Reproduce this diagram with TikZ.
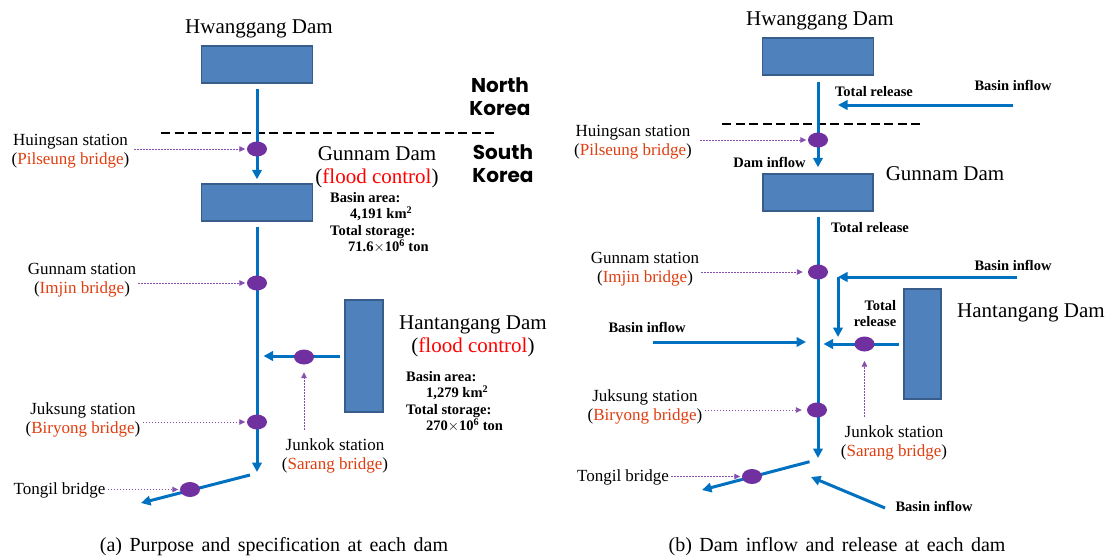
\documentclass[tikz,border=0pt]{standalone}
\usepackage{fontspec}
\setmainfont{Liberation Serif}
\newfontfamily\regionfont{Poppins}
\usepackage{xcolor}
\usepackage{tikz}
\usetikzlibrary{arrows.meta,shapes.geometric,calc}

\definecolor{riverblue}{RGB}{0,112,192}
\definecolor{damfill}{RGB}{79,129,189}
\definecolor{damedge}{RGB}{56,93,138}
\definecolor{gaugepurple}{RGB}{112,48,160}
\definecolor{bridgered}{RGB}{222,62,16}

\begin{document}
\begin{tikzpicture}[x=1pt,y=-1pt,
  dam/.style={draw=damedge, fill=damfill, line width=1.4pt, inner sep=0pt},
  flow/.style={draw=riverblue, line width=3pt, -{Triangle[length=9.5pt,width=9.5pt]}},
  gauge/.style={ellipse, fill=gaugepurple, minimum width=20pt, minimum height=15pt, inner sep=0pt},
  pointer/.style={draw=gaugepurple!85, line width=0.9pt, dash pattern=on 1.6pt off 1.4pt,
                  -{Triangle[length=6pt,width=5.5pt]}},
  damname/.style={font=\fontsize{21}{23}\selectfont, align=center, inner sep=0pt},
  station/.style={font=\fontsize{17}{19}\selectfont, align=center, inner sep=2pt},
  spec/.style={font=\bfseries\fontsize{14.5}{16.5}\selectfont, align=left, inner sep=0pt},
  region/.style={font=\regionfont\bfseries\fontsize{20}{23}\selectfont, align=center, inner sep=0pt},
  caption/.style={font=\fontsize{20}{24}\selectfont, inner sep=0pt}]

  \useasboundingbox (0,0) rectangle (1111,558);

  % ── (a) purpose and specification ───────────────────────────────────
  \node[damname] (hwNameA) at (259,29) {Hwanggang Dam};
  \node[dam, minimum width=111pt, minimum height=37pt] (hwA) at (257,64.5) {};
  \node[dam, minimum width=111pt, minimum height=37pt] (gnA) at (257,202.5) {};
  \node[dam, minimum width=38pt, minimum height=112pt] (htA) at (364,356) {};

  \draw[black, line width=2.8pt, dash pattern=on 9pt off 4.5pt] (161,133) -- (496,133);
  \node[region] (northA) at (500,96.5) {North\\Korea};
  \node[region] (southA) at (503,163.5) {South\\Korea};

  \node[damname] (gnNameA) at (377,167.5) {Gunnam Dam\\(\textcolor{red}{flood control})};
  \node[spec, anchor=north west] (gnSpecA) at (330,192)
       {Basin area:\\\hspace*{20pt}4,191 km$^{\mathbf 2}$\\Total storage:\\\hspace*{18pt}71.6$\times$10$^{\mathbf 6}$ ton};
  \node[damname] (htNameA) at (473,336) {Hantangang Dam\\(\textcolor{red}{flood control})};
  \node[spec, anchor=north west] (htSpecA) at (406,371)
       {Basin area:\\\hspace*{20pt}1,279 km$^{\mathbf 2}$\\Total storage:\\\hspace*{20pt}270$\times$10$^{\mathbf 6}$ ton};

  \coordinate (jA)   at (257,476);
  \coordinate (tgA)  at (250,475);
  \coordinate (outA) at (141,503);
  \draw[flow, shorten <=5pt, shorten >=4pt] (hwA) -- (gnA);
  \draw[flow, shorten <=5pt, shorten >=4pt] (gnA) -- (jA);
  \draw[flow, shorten <=4pt, shorten >=6.5pt] (htA) -- (htA -| jA);
  \draw[flow] (tgA) -- (outA);

  \node[gauge] (huA) at (257,149) {};
  \node[gauge] (gsA) at (257,283) {};
  \node[gauge] (ksA) at (257,422) {};
  \node[gauge] (jkA) at (304,357) {};
  \node[gauge] (toA) at (190,489.5) {};

  \node[station] (huLblA) at (70.5,151.5) {Huingsan station\\(\textcolor{bridgered}{Pilseung bridge})};
  \node[station] (gsLblA) at (82,280)    {Gunnam station\\(\textcolor{bridgered}{Imjin bridge})};
  \node[station] (ksLblA) at (83,420)    {Juksung station\\(\textcolor{bridgered}{Biryong bridge})};
  \node[station] (jkLblA) at (335,455.5) {Junkok station\\(\textcolor{bridgered}{Sarang bridge})};
  \node[station] (toLblA) at (59.5,490)  {Tongil bridge};

  \draw[pointer, shorten <=3pt, shorten >=1.5pt] (huLblA.east |- huA) -- (huA);
  \draw[pointer, shorten <=0pt, shorten >=1.5pt] (gsLblA.east |- gsA) -- (gsA);
  \draw[pointer, shorten <=0pt, shorten >=1.5pt] (ksLblA.east |- ksA) -- (ksA);
  \draw[pointer, shorten <=6pt, shorten >=7.5pt] (jkA |- jkLblA.north) -- (jkA);
  \draw[pointer, shorten <=0pt, shorten >=1.5pt] (toLblA.east |- toA) -- (toA);

  \node[caption] (capA) at (274,547) {\spaceskip=7.5pt\relax (a) Purpose and specification at each dam};

  % ── (b) dam inflow and release ──────────────────────────────────────
  \node[damname] (hwNameB) at (820,21) {Hwanggang Dam};
  \node[dam, minimum width=111pt, minimum height=37pt] (hwB) at (818,56.5) {};
  \node[dam, minimum width=110pt, minimum height=37pt] (gnB) at (818,192.5) {};
  \node[dam, minimum width=37pt, minimum height=110pt] (htB) at (922.5,344) {};

  \draw[black, line width=2.8pt, dash pattern=on 9pt off 4.5pt] (722,124) -- (922,124);

  \node[damname] (gnNameB) at (945,174) {Gunnam Dam};
  \node[damname] (htNameB) at (1031,313) {Hantangang Dam};

  \node[spec] (relHwB)  at (874,92)  {Total release};
  \node[spec] (relGnB)  at (870,228) {Total release};
  \node[spec] (inGnB)   at (769.5,162) {Dam inflow};
  \node[spec, align=right] (relHtB) at (875,313.5) {Total\\release};
  \node[spec] (bsn1B) at (1013,85)  {Basin inflow};
  \node[spec] (bsn2B) at (1013,265) {Basin inflow};
  \node[spec] (bsn3B) at (647,327)  {Basin inflow};
  \node[spec] (bsn4B) at (934,506)  {Basin inflow};

  \coordinate (jB)    at (818,462);
  \coordinate (tgB)   at (809.5,461.7);
  \coordinate (outB)  at (702,490);
  \coordinate (b1s)   at (1013,105);
  \coordinate (b1e)   at (838,105);
  \coordinate (b2s)   at (1017,277);
  \coordinate (b2c)   at (838,277);
  \coordinate (b2e)   at (838,337);
  \coordinate (b3s)   at (653,342);
  \coordinate (b3e)   at (806,342);
  \coordinate (b4s)   at (885,508);
  \coordinate (b4e)   at (811,477);

  \draw[flow, shorten <=6pt, shorten >=6pt] (hwB) -- (gnB);
  \draw[flow, shorten <=5pt, shorten >=4pt] (gnB) -- (jB);
  \draw[flow, shorten <=4pt, shorten >=5.5pt] (htB) -- (htB -| jB);
  \draw[flow] (tgB) -- (outB);
  \draw[flow] (b1s) -- (b1e);
  \draw[flow] (b2s) -- (b2c);
  \draw[flow] (b2c) -- (b2e);
  \draw[flow] (b3s) -- (b3e);
  \draw[flow] (b4s) -- (b4e);

  \node[gauge] (huB) at (818,140) {};
  \node[gauge] (gsB) at (818,272) {};
  \node[gauge] (ksB) at (817,410) {};
  \node[gauge] (jkB) at (864.5,344) {};
  \node[gauge] (toB) at (752,476.5) {};

  \node[station] (huLblB) at (633,142)   {Huingsan station\\(\textcolor{bridgered}{Pilseung bridge})};
  \node[station] (gsLblB) at (645,269)   {Gunnam station\\(\textcolor{bridgered}{Imjin bridge})};
  \node[station] (ksLblB) at (645,407)   {Juksung station\\(\textcolor{bridgered}{Biryong bridge})};
  \node[station] (jkLblB) at (894,442.5) {Junkok station\\(\textcolor{bridgered}{Sarang bridge})};
  \node[station] (toLblB) at (623,477)   {Tongil bridge};

  \draw[pointer, shorten <=6pt, shorten >=1.5pt] (huLblB.east |- huB) -- (huB);
  \draw[pointer, shorten <=0pt, shorten >=5pt] (gsLblB.east |- gsB) -- (gsB);
  \draw[pointer, shorten <=0pt, shorten >=5pt] (ksLblB.east |- ksB) -- (ksB);
  \draw[pointer, shorten <=6pt, shorten >=9pt] (jkB |- jkLblB.north) -- (jkB);
  \draw[pointer, shorten <=0pt, shorten >=1.5pt] (toLblB.east |- toB) -- (toB);

  \node[caption] (capB) at (837,547) {\spaceskip=7.5pt\relax (b) Dam inflow and release at each dam};

\end{tikzpicture}
\end{document}
